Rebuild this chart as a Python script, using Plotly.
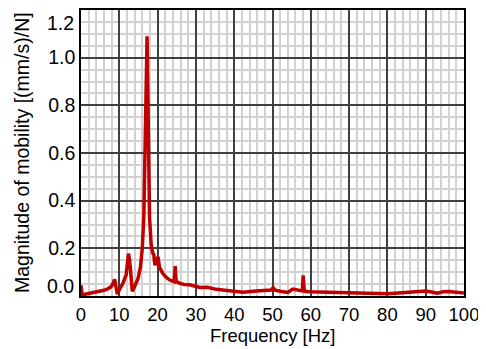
import plotly.graph_objects as go

freq = [0, 0.3, 1, 2, 3, 4, 5, 6, 7, 7.8, 8.3, 8.8, 9.1, 9.5, 10, 11, 11.8, 12.4, 12.7,
        13.1, 13.4, 14, 14.9, 15.5, 16.0, 16.4, 16.8, 17.1, 17.25, 17.4, 17.6, 17.9, 18.3,
        18.7, 19.0, 19.3, 19.7, 20.1, 20.5, 21.4, 22.3, 23.2, 24.3, 24.6, 24.8, 25.0, 25.8,
        27, 28.4, 29.5, 31, 33, 34, 35.3, 37.5, 39.6, 42.3, 45.7, 48, 49.6, 50.2, 50.7, 52,
        54, 55.3, 56.5, 57.8, 58.0, 58.3, 59.6, 62, 64.8, 68, 71, 75, 78, 80, 82, 84, 87,
        90, 91.5, 93, 94.5, 96, 98, 100]
magnitude = [0.045, 0.006, 0.007, 0.010, 0.013, 0.016, 0.019, 0.024, 0.030, 0.038, 0.050,
             0.070, 0.040, 0.008, 0.025, 0.055, 0.090, 0.178, 0.150, 0.050, 0.020, 0.040,
             0.074, 0.120, 0.200, 0.330, 0.600, 0.950, 1.090, 0.950, 0.600, 0.330, 0.220,
             0.180, 0.175, 0.130, 0.140, 0.165, 0.120, 0.094, 0.078, 0.067, 0.060, 0.125,
             0.070, 0.060, 0.053, 0.048, 0.047, 0.042, 0.036, 0.037, 0.032, 0.028, 0.024,
             0.021, 0.016, 0.021, 0.022, 0.025, 0.035, 0.024, 0.020, 0.015, 0.029, 0.024,
             0.021, 0.087, 0.020, 0.018, 0.017, 0.015, 0.013, 0.011, 0.010, 0.009, 0.009,
             0.012, 0.015, 0.017, 0.021, 0.017, 0.012, 0.018, 0.019, 0.016, 0.013]

x_ticks = [0, 10, 20, 30, 40, 50, 60, 70, 80, 90, 100]
y_ticks = [0.2, 0.4, 0.6, 0.8, 1.0]
y_edge_labels = [(0.0, "0.0", 10), (1.2, "1.2", -13)]

FONT = "Liberation Sans, Arial, sans-serif"
XTICK_SIZE = 18.5
YTICK_SIZE = 19.5
TITLE_SIZE = 18.5

fig = go.Figure()
fig.add_trace(go.Scatter(x=freq, y=magnitude, mode="lines",
                         line=dict(color="#c00000", width=3.5), showlegend=False))

grid_major = "#404040"
grid_minor = "#d2d2d2"

fig.update_xaxes(range=[0, 100], tickvals=x_ticks, ticktext=[str(v) for v in x_ticks],
                 showgrid=True, gridcolor=grid_major, gridwidth=1.5,
                 minor=dict(dtick=2, showgrid=True, gridcolor=grid_minor, gridwidth=2),
                 showline=True, linecolor="black", linewidth=1.5, mirror=True,
                 zeroline=False, ticks="", ticklabelstandoff=1,
                 tickfont=dict(size=XTICK_SIZE, color="black", family=FONT))
fig.update_yaxes(range=[0, 1.2], tickvals=y_ticks, ticktext=["%.1f" % v for v in y_ticks],
                 showgrid=True, gridcolor=grid_major, gridwidth=1.5,
                 minor=dict(dtick=0.05, showgrid=True, gridcolor=grid_minor, gridwidth=2),
                 showline=True, linecolor="black", linewidth=1.5, mirror=True,
                 zeroline=False, ticks="",
                 tickfont=dict(size=YTICK_SIZE, color="black", family=FONT))

annotations = []
for val, txt, shift in y_edge_labels:
    annotations.append(dict(x=0, y=val, xref="paper", yref="y", text=txt, showarrow=False,
                            xanchor="right", yanchor="middle", xshift=-5, yshift=shift,
                            font=dict(size=YTICK_SIZE, color="black", family=FONT)))
annotations.append(dict(x=0.5, y=0, xref="paper", yref="paper", text="Frequency [Hz]",
                        showarrow=False, xanchor="center", yanchor="middle", yshift=-39,
                        font=dict(size=TITLE_SIZE, color="black", family=FONT)))
annotations.append(dict(x=0, y=0.5, xref="paper", yref="paper",
                        text="Magnitude of mobility [(mm/s)/N]", textangle=-90,
                        showarrow=False, xanchor="center", yanchor="middle", xshift=-59,
                        font=dict(size=19.5, color="black", family=FONT)))

fig.update_layout(width=478, height=341, margin=dict(l=73, r=22, t=0, b=53),
                  paper_bgcolor="white", plot_bgcolor="white", annotations=annotations)

fig.write_html("out.html")
